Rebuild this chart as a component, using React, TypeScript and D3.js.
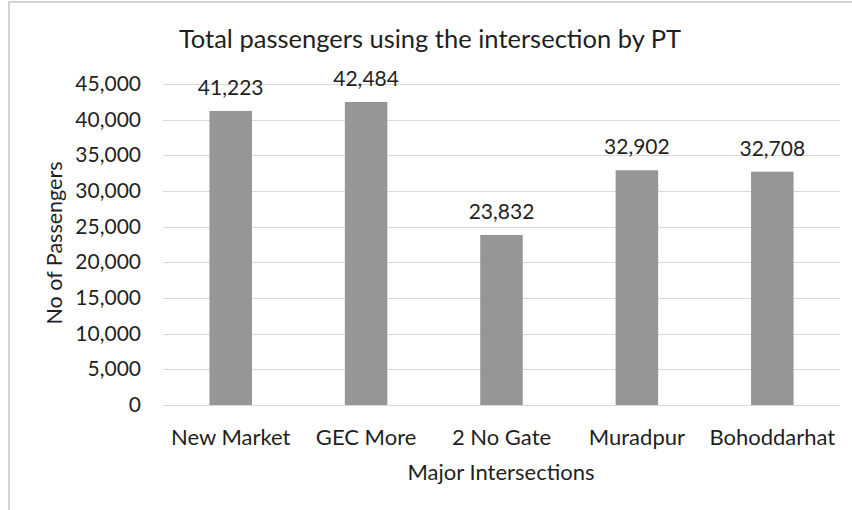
import React from "react";
import * as d3 from "d3";

const categories = ["New Market", "GEC More", "2 No Gate", "Muradpur", "Bohoddarhat"];
const passengers = [41223, 42484, 23832, 32902, 32708];
const yTicks = [0, 5000, 10000, 15000, 20000, 25000, 30000, 35000, 40000, 45000];

const W = 852;
const H = 510;
const plot = { left: 163, right: 840, top: 84, bottom: 405 };
const FONT = "Lato, 'Open Sans', sans-serif";
const TXT = "#1f1f1f";

export default function App() {
  const x = d3
    .scaleBand<string>()
    .domain(categories)
    .range([plot.left, plot.right])
    .paddingInner(0.686)
    .paddingOuter(0.343);
  const y = d3.scaleLinear().domain([0, 45000]).range([plot.bottom, plot.top]);
  const fmt = d3.format(",");

  return (
    <svg
      width={W}
      height={H}
      style={{ position: "fixed", left: 0, top: 0, background: "#fff" }}
      fontFamily={FONT}
    >
      <rect x={0} y={0} width={W} height={H} fill="#fff" />
      {/* chart border */}
      <line x1={8} x2={W} y1={2} y2={2} stroke="#d4d4d4" strokeWidth={2} />
      <line x1={9} x2={9} y1={1} y2={H} stroke="#d4d4d4" strokeWidth={2} />

      <text x={430} y={48} textAnchor="middle" fontSize={25.5} fill={TXT}>
        Total passengers using the intersection by PT
      </text>

      {yTicks.map((t) => (
        <g key={t}>
          <line
            x1={plot.left}
            x2={plot.right}
            y1={Math.round(y(t)) + 0.5}
            y2={Math.round(y(t)) + 0.5}
            stroke="#d9d9d9"
            strokeWidth={1}
          />
          <text x={141} y={y(t) + 7} textAnchor="end" fontSize={21} fill={TXT}>
            {fmt(t)}
          </text>
        </g>
      ))}

      {categories.map((c, i) => (
        <g key={c}>
          <rect
            x={x(c)}
            y={y(passengers[i])}
            width={x.bandwidth()}
            height={plot.bottom - y(passengers[i])}
            fill="#969696"
          />
          <text
            x={(x(c) as number) + x.bandwidth() / 2}
            y={y(passengers[i]) - 16}
            textAnchor="middle"
            fontSize={21}
            fill={TXT}
          >
            {fmt(passengers[i])}
          </text>
          <text
            x={(x(c) as number) + x.bandwidth() / 2}
            y={445}
            textAnchor="middle"
            fontSize={22}
            fill={TXT}
          >
            {c}
          </text>
        </g>
      ))}

      <text x={501} y={480} textAnchor="middle" fontSize={22} fill={TXT}>
        Major Intersections
      </text>
      <text
        transform={`translate(62, 243) rotate(-90)`}
        textAnchor="middle"
        fontSize={21.5}
        fill={TXT}
      >
        No of Passengers
      </text>
    </svg>
  );
}
